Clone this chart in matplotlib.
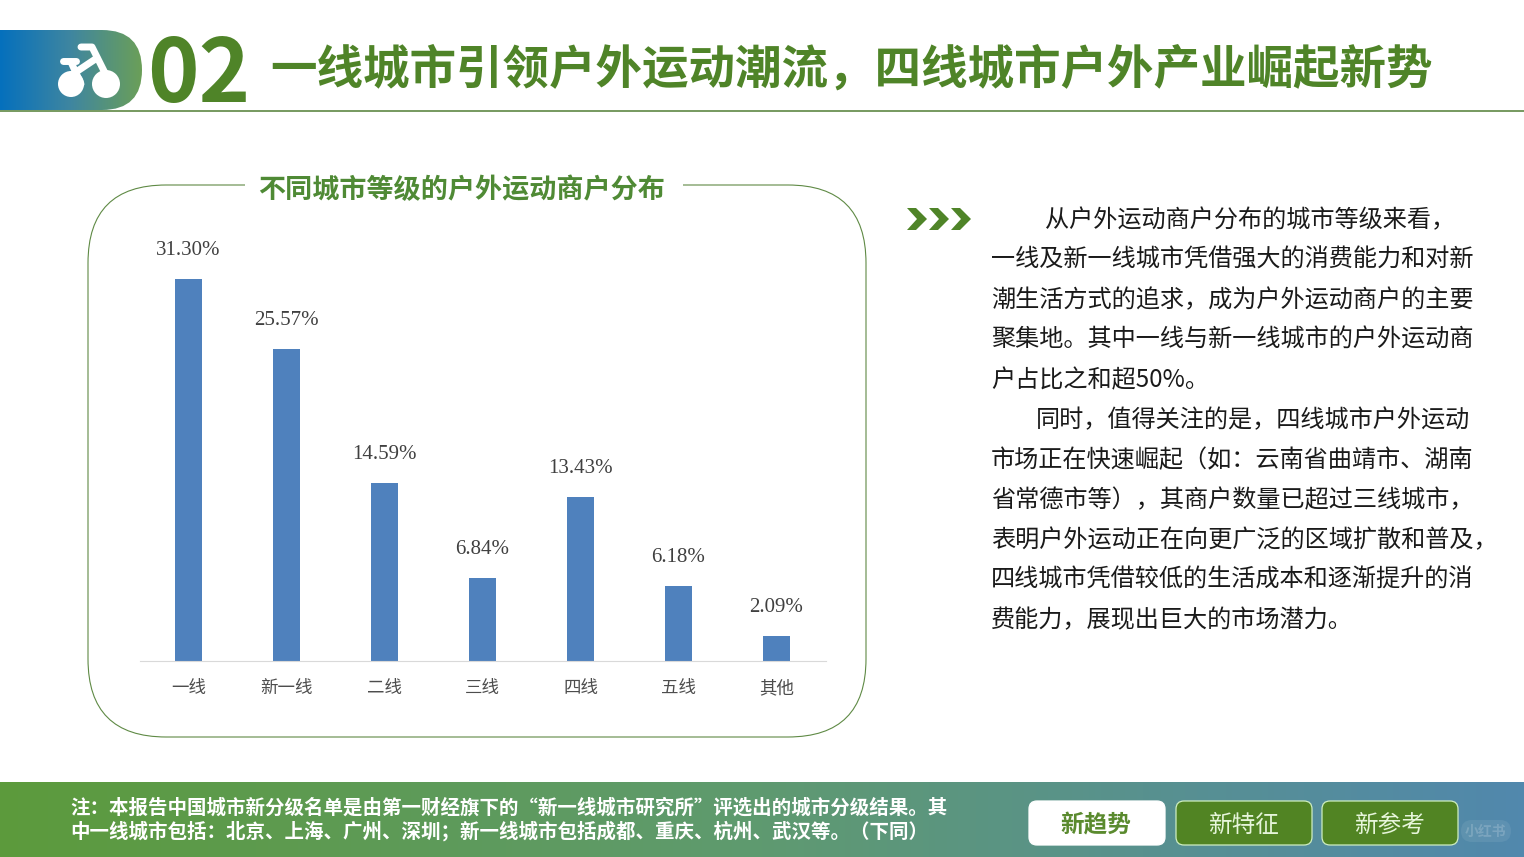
import matplotlib
matplotlib.use("Agg")
import matplotlib.pyplot as plt
import numpy as np
from matplotlib.patches import FancyBboxPatch, Circle, Polygon, Rectangle
from matplotlib.colors import LinearSegmentedColormap

plt.rcParams['font.family'] = ['Noto Sans CJK SC', 'DejaVu Sans']

# Data
categories = ["一线", "新一线", "二线", "三线", "四线", "五线", "其他"]
shares = [31.30, 25.57, 14.59, 6.84, 13.43, 6.18, 2.09]

# Text
page_title = "一线城市引领户外运动潮流，四线城市户外产业崛起新势"
chart_title = "不同城市等级的户外运动商户分布"
body_lines = [
    "从户外运动商户分布的城市等级来看，",
    "一线及新一线城市凭借强大的消费能力和对新",
    "潮生活方式的追求，成为户外运动商户的主要",
    "聚集地。其中一线与新一线城市的户外运动商",
    "户占比之和超50%。",
    "同时，值得关注的是，四线城市户外运动",
    "市场正在快速崛起（如：云南省曲靖市、湖南",
    "省常德市等），其商户数量已超过三线城市，",
    "表明户外运动正在向更广泛的区域扩散和普及，",
    "四线城市凭借较低的生活成本和逐渐提升的消",
    "费能力，展现出巨大的市场潜力。",
]
body_x = [1045, 991, 991, 991, 991, 1036, 991, 991, 991, 991, 991]
note_lines = [
    "注：本报告中国城市新分级名单是由第一财经旗下的“新一线城市研究所”评选出的城市分级结果。其",
    "中一线城市包括：北京、上海、广州、深圳；新一线城市包括成都、重庆、杭州、武汉等。（下同）",
]
buttons = ["新趋势", "新特征", "新参考"]

GREEN = "#4f8428"
W, H = 1524, 857

fig = plt.figure(figsize=(15.24, 8.57), dpi=100, facecolor="white")

# Page layer in pixel coordinates
bg = fig.add_axes([0, 0, 1, 1])
bg.set_xlim(0, W)
bg.set_ylim(H, 0)
bg.axis("off")

grad = np.linspace(0, 1, 256).reshape(1, -1)

# Header band
head_cmap = LinearSegmentedColormap.from_list("head", ["#0570bd", "#3f86a0", "#6b9f58"])
head_img = bg.imshow(grad, extent=[0, 142, 110, 30], cmap=head_cmap, aspect="auto")
head_clip = FancyBboxPatch((-60, 30), 202, 80, boxstyle="round,pad=0,rounding_size=40",
                           fc="none", ec="none", transform=bg.transData)
bg.add_patch(head_clip)
head_img.set_clip_path(head_clip)
bg.plot([0, W], [111, 111], color="#76995f", lw=1.4)

# Bicycle icon
bg.add_patch(Circle((71, 84), 13, fc="white", ec="none"))
bg.add_patch(Circle((106, 84), 14, fc="white", ec="none"))
bg.plot([81, 92, 107], [47, 47, 77], color="white", lw=5, solid_capstyle="round", solid_joinstyle="round")
bg.plot([63, 76], [61, 61], color="white", lw=5, solid_capstyle="round")
bg.plot([71, 81], [62, 84], color="white", lw=5, solid_capstyle="round")
bg.plot([76, 97], [72, 58], color="white", lw=5, solid_capstyle="round")

bg.text(199, 77, "02", fontweight="bold", fontsize=63, color=GREEN, ha="center", va="center")
bg.text(270, 70, page_title, fontsize=33.5, fontweight="bold", color=GREEN, ha="left", va="center")

# Chart frame
bg.add_patch(FancyBboxPatch((88, 185), 778, 552, boxstyle="round,pad=0,rounding_size=78",
                            fc="white", ec="#5f8a45", lw=0.8))
bg.add_patch(Rectangle((245, 175), 438, 20, fc="white", ec="none", zorder=3))
bg.text(462, 190, chart_title, fontsize=19.5, fontweight="bold", color="#4f8a35",
        ha="center", va="center", zorder=4)

# Chevrons
for x0 in (907, 929, 951):
    bg.add_patch(Polygon([(x0, 208), (x0 + 9, 208), (x0 + 20, 219), (x0 + 9, 230), (x0, 230), (x0 + 10, 219)],
                         fc=GREEN, ec="none"))

# Body text
for i, line in enumerate(body_lines):
    bg.text(body_x[i], 220 + 40 * i, line, fontsize=17.4, color="#1a1a1a", ha="left", va="center")

# Footer band
foot_cmap = LinearSegmentedColormap.from_list("foot", ["#5c9a3c", "#5f9a70", "#5188ad"])
bg.imshow(grad, extent=[0, W, H, 782], cmap=foot_cmap, aspect="auto")
for i, line in enumerate(note_lines):
    bg.text(70, 808 + 23 * i, line, fontsize=14, fontweight="bold", color="white", ha="left", va="center")

# Buttons
button_x = [1029, 1176, 1322]
for i, label in enumerate(buttons):
    active = i == 0
    bg.add_patch(FancyBboxPatch((button_x[i], 801), 136, 44, boxstyle="round,pad=0,rounding_size=8",
                                fc="white" if active else "#518423",
                                ec="white" if active else "#cfeec0", lw=0.9))
    bg.text(button_x[i] + 67, 825, label, fontsize=17, color="#5a8a2e" if active else "#e6f5da",
            fontweight="bold" if active else "normal", ha="center", va="center")

# Watermark
bg.add_patch(FancyBboxPatch((1461, 820), 50, 22, boxstyle="round,pad=0,rounding_size=11",
                            fc="white", ec="none", alpha=0.08))
bg.text(1486, 832, "小红书", fontsize=10, fontweight="bold", color="white", alpha=0.18, ha="center", va="center")

bg.set_xlim(0, W)
bg.set_ylim(H, 0)

# Bar chart
ax = fig.add_axes([139.5 / W, (H - 661) / H, 686 / W, 427 / H])
ax.patch.set_alpha(0)
x = np.arange(len(categories))
ax.bar(x, shares, width=0.28, color="#4f81bd")
for xi, v in zip(x, shares):
    ax.annotate(f"{v:.2f}%", (xi, v), xytext=(0, 20.5), textcoords="offset points",
                family="Liberation Serif", fontsize=15, color="#404040", ha="center", va="center")
ax.set_xlim(-0.5, 6.5)
ax.set_ylim(0, 35)
ax.set_xticks(x)
ax.set_xticklabels(categories, fontsize=12.6, color="#4d4d4d")
ax.tick_params(axis="x", length=0, pad=13)
ax.yaxis.set_visible(False)
for side in ("top", "left", "right"):
    ax.spines[side].set_visible(False)
ax.spines["bottom"].set_color("#d9d9d9")

fig.savefig("out.png", dpi=100)
